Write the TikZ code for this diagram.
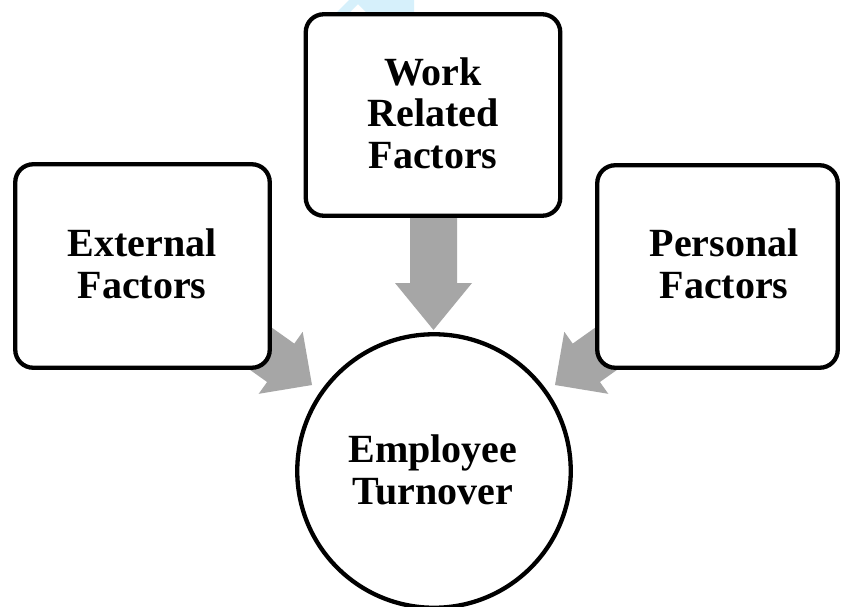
\documentclass[tikz,border=0pt]{standalone}
\usepackage{fontspec}
\setmainfont{Liberation Serif}
\begin{document}
\begin{tikzpicture}[x=1pt,y=-1pt,
  box/.style={draw=black, line width=4.3pt, fill=white, rounded corners=18pt, inner sep=0pt},
  lbl/.style={align=center, font=\fontsize{40}{41.5}\selectfont\bfseries, inner sep=0pt},
  blockarrow/.style={fill=arrowgray, draw=none},
]
\definecolor{arrowgray}{RGB}{166,166,166}
\definecolor{wmblue}{RGB}{214,240,251}
\useasboundingbox (0,0) rectangle (841,606);
\fill[white] (0,0) rectangle (841,606);
% faint watermark fragment at the top
\fill[wmblue] (337,12) -- (349,0) -- (414,0) -- (414,12) -- (406,12) arc[start angle=0,end angle=180,radius=8] -- (366,12) -- (358,4) -- (350,12) -- cycle;
% block arrows (drawn below the boxes)
\fill[blockarrow] (433.5,330) -- (472,283) -- (457,283) -- (457,200) -- (410,200) -- (410,283) -- (395,283) -- cycle;
\fill[blockarrow] (312,385) -- (258.7,393.8) -- (267.1,382.0) -- (218.2,347.3) -- (245.4,308.9) -- (294.3,343.6) -- (302.7,331.8) -- cycle;
\fill[blockarrow] (555,385) -- (608.3,393.8) -- (599.9,382.0) -- (648.8,347.3) -- (621.6,308.9) -- (572.7,343.6) -- (564.3,331.8) -- cycle;
% boxes
\node[box, minimum width=254.5pt, minimum height=203.5pt] (ext) at (142.5,266) {};
\node[lbl] (exttext) at (142,264) {External\\Factors};
\node[box, minimum width=254.5pt, minimum height=201.5pt] (work) at (433,115) {};
\node[lbl] (worktext) at (433,113) {Work\\Related\\Factors};
\node[box, minimum width=240.5pt, minimum height=202.5pt] (pers) at (717.5,266.5) {};
\node[lbl] (perstext) at (724,264) {Personal\\Factors};
\node[box, circle, minimum size=273.5pt] (emp) at (434,471) {};
\node[lbl] (emptext) at (433,470) {Employee\\Turnover};
\end{tikzpicture}
\end{document}
